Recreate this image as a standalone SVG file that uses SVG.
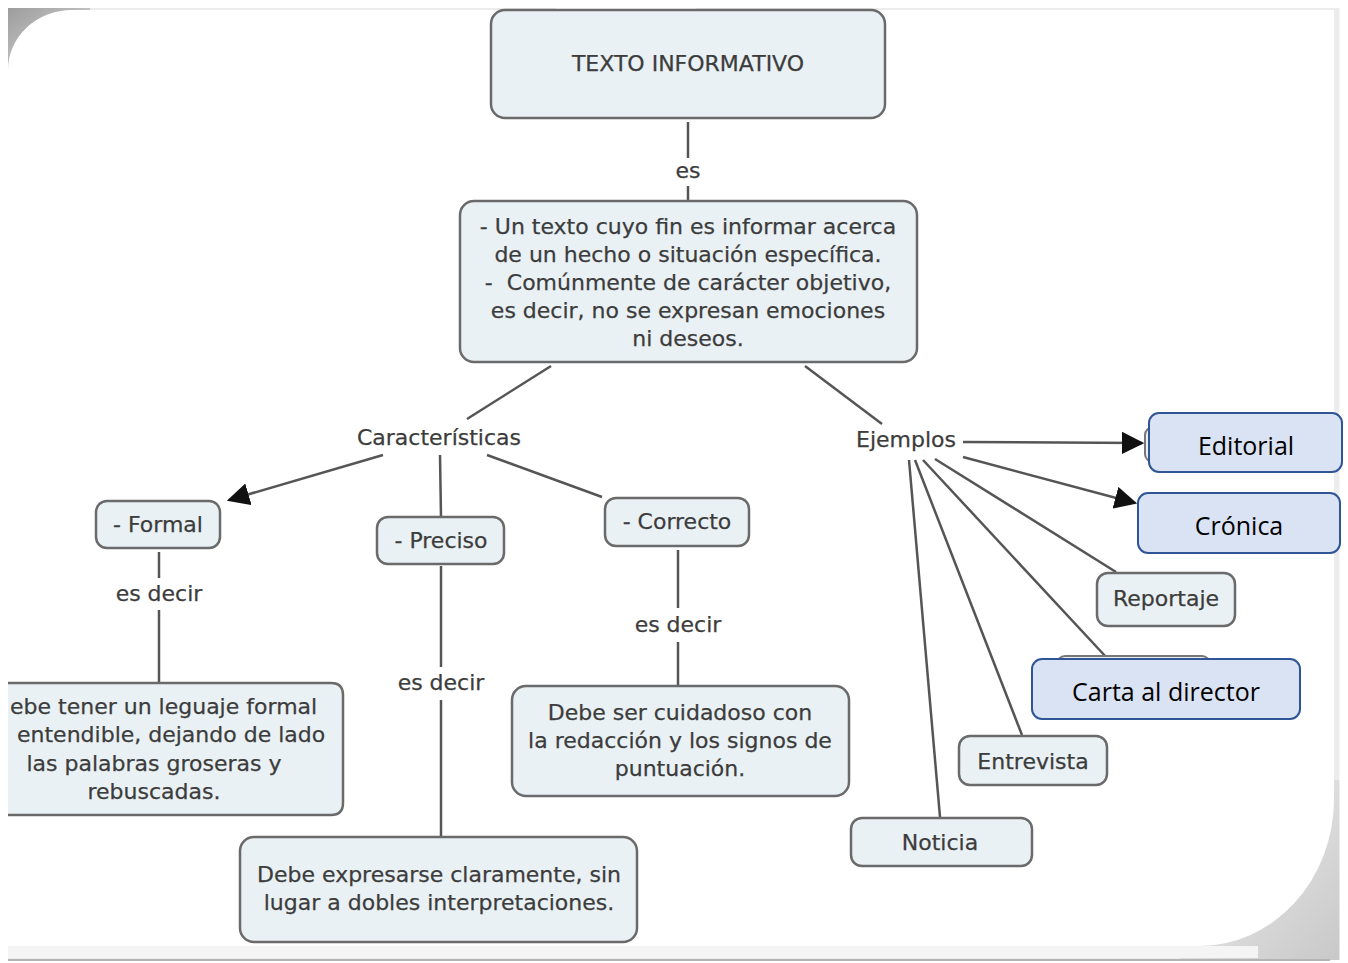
<svg xmlns="http://www.w3.org/2000/svg" width="1348" height="963" viewBox="0 0 1348 963">
<defs>
<style>
.nd{fill:#e9f1f4;stroke:#6a6a6a;stroke-width:2.5}
.bl{fill:#dae3f3;stroke:#2f5597;stroke-width:2}
.t{font-family:"DejaVu Sans",Verdana,sans-serif;font-size:22px;fill:#3c3c3c;text-anchor:middle;stroke:#3c3c3c;stroke-width:0.25}
.c{font-family:"Open Sans","Liberation Sans",sans-serif;font-size:25px;fill:#000;text-anchor:middle}
.ln{stroke:#555;stroke-width:2.5;fill:none}
.ghost{fill:#e9f1f4;stroke:#777;stroke-width:2}
</style>
<marker id="ah2" viewBox="0 0 10 10" refX="9" refY="5" markerWidth="9" markerHeight="9" orient="auto">
<path d="M0,0 L10,5 L0,10 Z" fill="#111"/>
</marker>
<linearGradient id="tl" x1="0" y1="0" x2="1" y2="1">
<stop offset="0" stop-color="#9c9c9c"/>
<stop offset="1" stop-color="#e2e2e2"/>
</linearGradient>
<linearGradient id="br" x1="0" y1="0" x2="1" y2="1">
<stop offset="0" stop-color="#f2f2f2"/>
<stop offset="1" stop-color="#c8c8c8"/>
</linearGradient>
</defs>

<g id="background">
<rect x="0" y="0" width="1348" height="963" fill="#fff"/>
<rect x="8" y="8" width="1334" height="952" fill="#ececec"/>
<path d="M8,8 H90 V70 H8 Z" fill="url(#tl)"/>
<path d="M1180,780 H1342 V960 H1180 Z" fill="url(#br)"/>
<path d="M8,70 A64 60 0 0 1 72,10 L1334,10 L1334,800 A135 147 0 0 1 1199,946 L8,946 Z" fill="#fff"/>
<rect x="556" y="0" width="140" height="9" fill="#fff"/>
<rect x="8" y="946" width="1250" height="12" fill="#f4f4f4"/>
<line x1="8" y1="960" x2="1330" y2="960" stroke="#b4b4b4" stroke-width="2"/>
<line x1="1342" y1="8" x2="1342" y2="963" stroke="#fff" stroke-width="5"/>
</g>

<g id="connectors">
<line class="ln" x1="688" y1="122" x2="688" y2="158"/>
<line class="ln" x1="688" y1="186" x2="688" y2="200"/>
<line class="ln" x1="551" y1="366" x2="467" y2="419"/>
<line class="ln" x1="805" y1="366" x2="882" y2="424"/>
<line class="ln" x1="383" y1="455" x2="229" y2="500" marker-end="url(#ah2)"/>
<line class="ln" x1="440" y1="455" x2="441" y2="517"/>
<line class="ln" x1="487" y1="455" x2="602" y2="497"/>
<line class="ln" x1="159" y1="552" x2="159" y2="578"/>
<line class="ln" x1="159" y1="610" x2="159" y2="683"/>
<line class="ln" x1="441" y1="566" x2="441" y2="667"/>
<line class="ln" x1="441" y1="700" x2="441" y2="837"/>
<line class="ln" x1="678" y1="550" x2="678" y2="608"/>
<line class="ln" x1="678" y1="642" x2="678" y2="686"/>
<line class="ln" x1="963" y1="442" x2="1142" y2="443" marker-end="url(#ah2)"/>
<line class="ln" x1="963" y1="457" x2="1135" y2="503" marker-end="url(#ah2)"/>
<line class="ln" x1="935" y1="459" x2="1116" y2="572"/>
<line class="ln" x1="923" y1="460" x2="1107" y2="658"/>
<line class="ln" x1="915" y1="460" x2="1022" y2="735"/>
<line class="ln" x1="909" y1="460" x2="940" y2="817"/>
</g>

<g id="n-title">
<rect class="nd" x="491" y="10" width="394" height="108" rx="14"/>
<text class="t" x="688" y="71">TEXTO INFORMATIVO</text>
</g>
<g id="l-es"><text class="t" x="688" y="178">es</text></g>

<g id="n-def">
<rect class="nd" x="460" y="201" width="457" height="161" rx="14"/>
<text class="t" x="688" y="234">- Un texto cuyo fin es informar acerca</text>
<text class="t" x="688" y="262">de un hecho o situación específica.</text>
<text class="t" x="688" y="290" xml:space="preserve" style="white-space:pre">-  Comúnmente de carácter objetivo,</text>
<text class="t" x="688" y="318">es decir, no se expresan emociones</text>
<text class="t" x="688" y="346">ni deseos.</text>
</g>

<g id="l-caracteristicas"><text class="t" x="439" y="445">Características</text></g>
<g id="l-ejemplos"><text class="t" x="906" y="447">Ejemplos</text></g>

<g id="n-formal">
<rect class="nd" x="96" y="501" width="124" height="47" rx="11"/>
<text class="t" x="158" y="532">- Formal</text>
</g>
<g id="n-preciso">
<rect class="nd" x="377" y="517" width="127" height="47" rx="11"/>
<text class="t" x="441" y="548">- Preciso</text>
</g>
<g id="n-correcto">
<rect class="nd" x="605" y="498" width="144" height="48" rx="11"/>
<text class="t" x="677" y="529">- Correcto</text>
</g>

<g id="l-esdecir1"><text class="t" x="159" y="601">es decir</text></g>
<g id="l-esdecir2"><text class="t" x="441" y="690">es decir</text></g>
<g id="l-esdecir3"><text class="t" x="678" y="632">es decir</text></g>

<g id="n-formal-def">
<path class="nd" d="M8,683 H331 Q343,683 343,695 V803 Q343,815 331,815 H8"/>
<text class="t" x="10" y="714" style="text-anchor:start">ebe tener un leguaje formal</text>
<text class="t" x="17" y="742" style="text-anchor:start">entendible, dejando de lado</text>
<text class="t" x="154" y="771">las palabras groseras y</text>
<text class="t" x="154" y="799">rebuscadas.</text>
</g>

<g id="n-preciso-def">
<rect class="nd" x="240" y="837" width="397" height="105" rx="14"/>
<text class="t" x="439" y="882">Debe expresarse claramente, sin</text>
<text class="t" x="439" y="910">lugar a dobles interpretaciones.</text>
</g>

<g id="n-correcto-def">
<rect class="nd" x="512" y="686" width="337" height="110" rx="14"/>
<text class="t" x="680" y="720">Debe ser cuidadoso con</text>
<text class="t" x="680" y="748">la redacción y los signos de</text>
<text class="t" x="680" y="776">puntuación.</text>
</g>

<g id="n-editorial">
<rect class="ghost" x="1145" y="427" width="80" height="35" rx="8"/>
<rect class="bl" x="1149" y="413" width="193" height="59" rx="10"/>
<text class="c" x="1246" y="455">Editorial</text>
</g>
<g id="n-cronica">
<rect class="bl" x="1138" y="493" width="202" height="60" rx="10"/>
<text class="c" x="1239" y="535">Crónica</text>
</g>
<g id="n-reportaje">
<rect class="nd" x="1097" y="573" width="138" height="53" rx="11"/>
<text class="t" x="1166" y="606">Reportaje</text>
</g>
<g id="n-carta">
<rect class="ghost" x="1057" y="656" width="153" height="40" rx="8"/>
<rect class="bl" x="1032" y="659" width="268" height="60" rx="10"/>
<text class="c" x="1166" y="701">Carta al director</text>
</g>
<g id="n-entrevista">
<rect class="nd" x="959" y="736" width="148" height="49" rx="11"/>
<text class="t" x="1033" y="769">Entrevista</text>
</g>
<g id="n-noticia">
<rect class="nd" x="851" y="818" width="181" height="48" rx="11"/>
<text class="t" x="940" y="850">Noticia</text>
</g>
</svg>
